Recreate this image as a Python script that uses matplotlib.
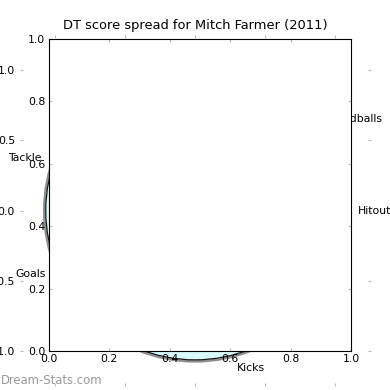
import matplotlib
matplotlib.use('Agg')
import matplotlib.pyplot as plt
import numpy as np
from matplotlib.patches import Circle

title = "DT score spread for Mitch Farmer (2011)"
categories = ['Kicks', 'Hitout', 'Handballs', 'Tackle', 'Goals']
bg_ticks = [-1.0, -0.5, 0.0, 0.5, 1.0]
fg_ticks = [0.0, 0.2, 0.4, 0.6, 0.8, 1.0]
frame_radius = 1.063
watermark = 'Dream-Stats.com'

# layout of category labels around the radar (angle in degrees, alignment)
label_angles = [-75.2, 0.0, 34.5, 161.2, 203.0]
label_ha = ['left', 'left', 'left', 'right', 'right']
label_r = 1.157

TICK_GRAY = '#bbbbbb'
FS = 7.8


def fmt(v):
    return f'{v:.1f}'.replace('-', '\u2212')


fig = plt.figure(figsize=(3.9, 3.9), dpi=100)

# background (radar) axes
bg = fig.add_axes([0.05, 0.01, 0.9, 0.9])
bg.set_xlim(-1.25, 1.25)
bg.set_ylim(-1.25, 1.25)
for s in bg.spines.values():
    s.set_visible(False)
bg.set_xticks(bg_ticks)
bg.set_yticks(bg_ticks)
bg.set_xticklabels([fmt(v) for v in bg_ticks])
bg.set_yticklabels([fmt(v) for v in bg_ticks])
bg.tick_params(direction='in', top=True, right=True, length=2.5, width=0.8,
               color=TICK_GRAY, labelsize=FS, pad=3.2)

ring = Circle((0, 0), frame_radius + 0.011, fill=False, ec='#8f8f8f', lw=1.8, zorder=2)
bg.add_patch(ring)
disc = Circle((0, 0), frame_radius, fc='#d9fbfb', ec='#1a1a1a', lw=0.9, zorder=3)
bg.add_patch(disc)

for name, ang, ha in zip(categories, label_angles, label_ha):
    a = np.deg2rad(ang)
    bg.text(label_r * np.cos(a), label_r * np.sin(a), name, ha=ha, va='center',
            fontsize=FS, zorder=4)

# front cartesian axes
fg = fig.add_axes([0.125, 0.1, 0.775, 0.8])
fg.set_facecolor('white')
fg.set_xlim(0, 1)
fg.set_ylim(0, 1)
fg.set_xticks(fg_ticks)
fg.set_yticks(fg_ticks)
fg.set_xticklabels([fmt(v) for v in fg_ticks])
fg.set_yticklabels([fmt(v) for v in fg_ticks])
fg.tick_params(direction='in', top=True, right=True, length=2.5, width=0.8,
               color=TICK_GRAY, labelsize=FS, pad=2.5)
for s in fg.spines.values():
    s.set_linewidth(0.8)
    s.set_color('black')

fig.text(0.5, 1 - 26 / 390, title, ha='center', va='center', fontsize=9.4)

fig.text(0.002, 10 / 390, watermark, ha='left', va='center', color='#999999',
         fontsize=8.4)

fig.savefig('out.png', dpi=100)
